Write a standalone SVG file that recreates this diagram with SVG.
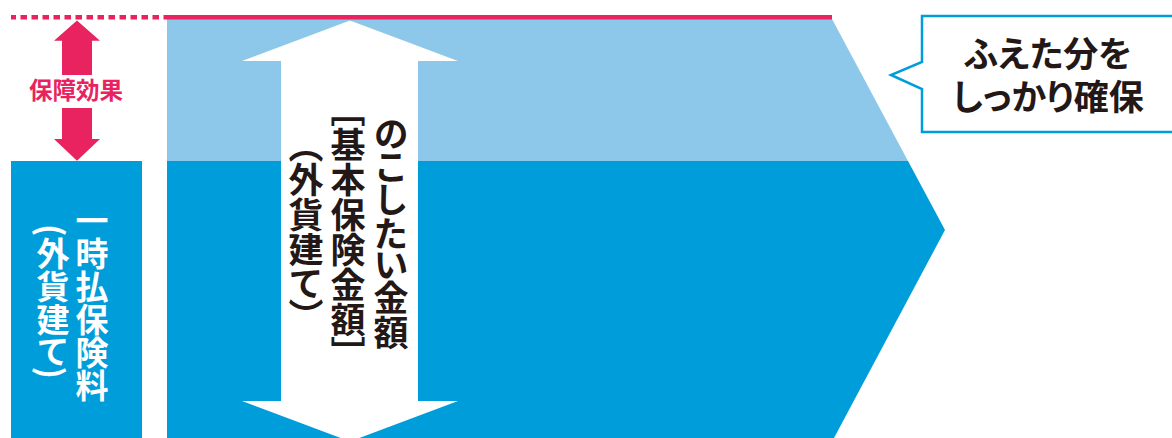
<svg xmlns="http://www.w3.org/2000/svg" width="1172" height="438" viewBox="0 0 1172 438">
  <style>
    .jp { font-family: "Noto Sans CJK JP", "Noto Sans", sans-serif; font-weight: 700; }
    .vert { writing-mode: vertical-rl; text-anchor: middle; font-feature-settings: "vpal" 1; }
    .white { fill: #ffffff; }
    .dark { fill: #231815; }
    .pink { fill: #E8235F; }
  </style>
  <rect width="1172" height="438" fill="#ffffff"/>

  <g id="increase-area">
    <polygon points="167,19 832,19 908,161 167,161" fill="#8DC8EB"/>
  </g>
  <g id="basic-area">
    <polygon points="167,161 908,161 945,230 834,438 167,438" fill="#009DDB"/>
  </g>

  <g id="premium">
    <rect x="11" y="161" width="131" height="277" fill="#009DDB"/>
    <text class="jp vert white" x="92" y="302.5" font-size="33">一時払保険料</text>
    <text class="jp vert white" x="53" y="301.5" font-size="33">(外貨建て)</text>
  </g>

  <g id="connectors">
    <line x1="11" y1="17.2" x2="167" y2="17.2" stroke="#E8235F" stroke-width="4.6" stroke-dasharray="6.5 4.5" stroke-dashoffset="1.5"/>
    <line x1="167" y1="17.2" x2="832" y2="17.2" stroke="#E8235F" stroke-width="4.6"/>
  </g>

  <g id="protection-effect">
    <polygon points="77,20.5 100,40.7 92,40.7 92,75 62,75 62,40.7 54,40.7" fill="#E8235F"/>
    <polygon points="62,108 92,108 92,139 100,139 77,160.7 54,139 62,139" fill="#E8235F"/>
    <text class="jp pink" x="76" y="99" font-size="23.5" text-anchor="middle">保障効果</text>
  </g>

  <g id="remaining-amount">
    <polygon points="350,20.5 458,61 418,61 418,401 458,401 350,441.5 242,401 281,401 281,61 242,61" fill="#ffffff"/>
    <text class="jp vert dark" x="391" y="234" font-size="35">のこしたい金額</text>
    <text class="jp vert dark" x="348" y="232" font-size="35">［基本保険金額］</text>
    <text class="jp vert dark" x="306" y="231" font-size="35">（外貨建て）</text>
  </g>

  <g id="callout">
    <path d="M922,16 H1175 V132 H922 V89 L891,75 L922,62 Z" fill="#ffffff" stroke="#009DDB" stroke-width="2.5"/>
    <text class="jp dark" font-size="35" text-anchor="middle" style="font-feature-settings: 'palt' 1;"><tspan x="1048" y="67">ふえた分を</tspan><tspan x="1048" y="110">しっかり確保</tspan></text>
  </g>
</svg>
